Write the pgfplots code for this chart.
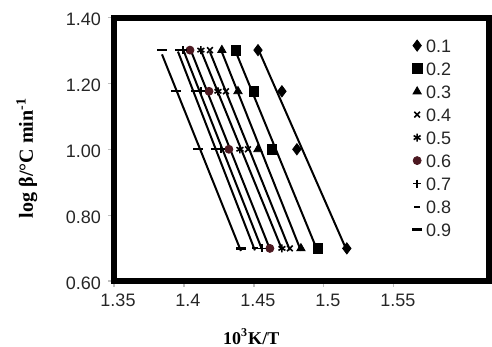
\documentclass[border=0pt]{standalone}
\usepackage{pgfplots}
\usepackage{pgfplotstable}
\pgfplotsset{compat=1.18}
\usepackage{fontspec}
\setmainfont{Liberation Sans}
\newfontfamily\seriffont{Liberation Serif}
\definecolor{darkmaroon}{rgb}{0.30,0.10,0.13}

\pgfplotstableread{
y     s1     s2     s3     s4     s5     s6     s7     s8     s9
1.301 1.4529 1.4371 1.4271 1.4186 1.4121 1.4043 1.3993 1.3957 1.3843
1.176 1.4700 1.4500 1.4386 1.4300 1.4243 1.4179 1.4121 1.4071 1.3943
1.000 1.4807 1.4629 1.4529 1.4457 1.4400 1.4321 1.4264 1.4214 1.4100
0.699 1.5164 1.4957 1.4836 1.4757 1.4700 1.4614 1.4557 1.4507 1.4407
}\data

\begin{document}
\begin{tikzpicture}
\path[use as bounding box] (-57pt,-33pt) rectangle (189pt,140.5pt);
\begin{axis}[
  at={(0,0)}, anchor=south west,
  scale only axis, width=187.5pt, height=131.75pt,
  xmin=1.35, xmax=1.618, ymin=0.6, ymax=1.4,
  xtick={1.35,1.4,1.45,1.5,1.55},
  xticklabels={1.35,1.4,1.45,1.5,1.55},
  ytick={0.6,0.8,1.0,1.2,1.4},
  yticklabels={0.60,0.80,1.00,1.20,1.40},
  axis line style={line width=3pt},
  tick align=outside, major tick length=3pt,
  tick style={gray!50, line width=0.6pt},
  xtick pos=bottom, ytick pos=left,
  ticklabel style={font=\fontsize{9}{10}\selectfont, text=black!85},
  xticklabel style={xshift=2pt},
  yticklabel style={yshift=-1pt},
  xlabel={\seriffont\bfseries 10\textsuperscript{3}K/T},
  ylabel={\seriffont\bfseries log β/°C min\textsuperscript{-1}},
  xlabel style={at={(axis description cs:0.366,-0.212)}, anchor=center, font=\fontsize{9}{10}\selectfont},
  ylabel style={at={(axis description cs:-0.2326,0.467)}, anchor=center, rotate=0, font=\fontsize{10}{12}\selectfont},
  legend image code/.code={\draw[mark repeat=2,mark phase=2,#1] plot coordinates {(0cm,0cm) (0.15cm,0cm) (0.36cm,0cm)};},
  legend style={at={(axis description cs:0.778,0.95)}, anchor=north west, draw=none, fill=none,
    font=\fontsize{9}{10}\selectfont, text=black!85,
    nodes={inner sep=2pt, text height=6.5pt, text depth=0pt}, row sep=1pt},
  legend cell align=left,
]
% series markers
\addplot[only marks, mark=diamond*, mark size=2.8pt, black] table[x=s1, y=y] {\data};
\addplot[only marks, mark=square*, mark size=2.4pt, black] table[x=s2, y=y] {\data};
\addplot[only marks, mark=triangle*, mark size=2.4pt, black] table[x=s3, y=y] {\data};
\addplot[only marks, mark=x, mark size=2pt, black, line width=0.8pt] table[x=s4, y=y] {\data};
\addplot[only marks, mark=asterisk, mark size=2pt, black, line width=0.8pt] table[x=s5, y=y] {\data};
\addplot[only marks, mark=*, mark size=2pt, darkmaroon] table[x=s6, y=y] {\data};
\addplot[only marks, mark=+, mark size=2pt, black, line width=0.8pt] table[x=s7, y=y] {\data};
\addplot[only marks, mark=-, mark size=1.5pt, black, line width=1pt] table[x=s8, y=y] {\data};
\addplot[only marks, mark=-, mark size=2.5pt, black, line width=1.2pt] table[x=s9, y=y] {\data};
\legend{0.1,0.2,0.3,0.4,0.5,0.6,0.7,0.8,0.9}
% linear fits
\addplot[forget plot, no marks, black, line width=1pt] table[x=s1, y={create col/linear regression={x=s1,y=y}}] {\data};
\addplot[forget plot, no marks, black, line width=1pt] table[x=s2, y={create col/linear regression={x=s2,y=y}}] {\data};
\addplot[forget plot, no marks, black, line width=1pt] table[x=s3, y={create col/linear regression={x=s3,y=y}}] {\data};
\addplot[forget plot, no marks, black, line width=1pt] table[x=s4, y={create col/linear regression={x=s4,y=y}}] {\data};
\addplot[forget plot, no marks, black, line width=1pt] table[x=s5, y={create col/linear regression={x=s5,y=y}}] {\data};
\addplot[forget plot, no marks, black, line width=1pt] table[x=s6, y={create col/linear regression={x=s6,y=y}}] {\data};
\addplot[forget plot, no marks, black, line width=1pt] table[x=s7, y={create col/linear regression={x=s7,y=y}}] {\data};
\addplot[forget plot, no marks, black, line width=1pt] table[x=s8, y={create col/linear regression={x=s8,y=y}}] {\data};
\addplot[forget plot, no marks, black, line width=1pt] table[x=s9, y={create col/linear regression={x=s9,y=y}}] {\data};
\end{axis}
\end{tikzpicture}
\end{document}
